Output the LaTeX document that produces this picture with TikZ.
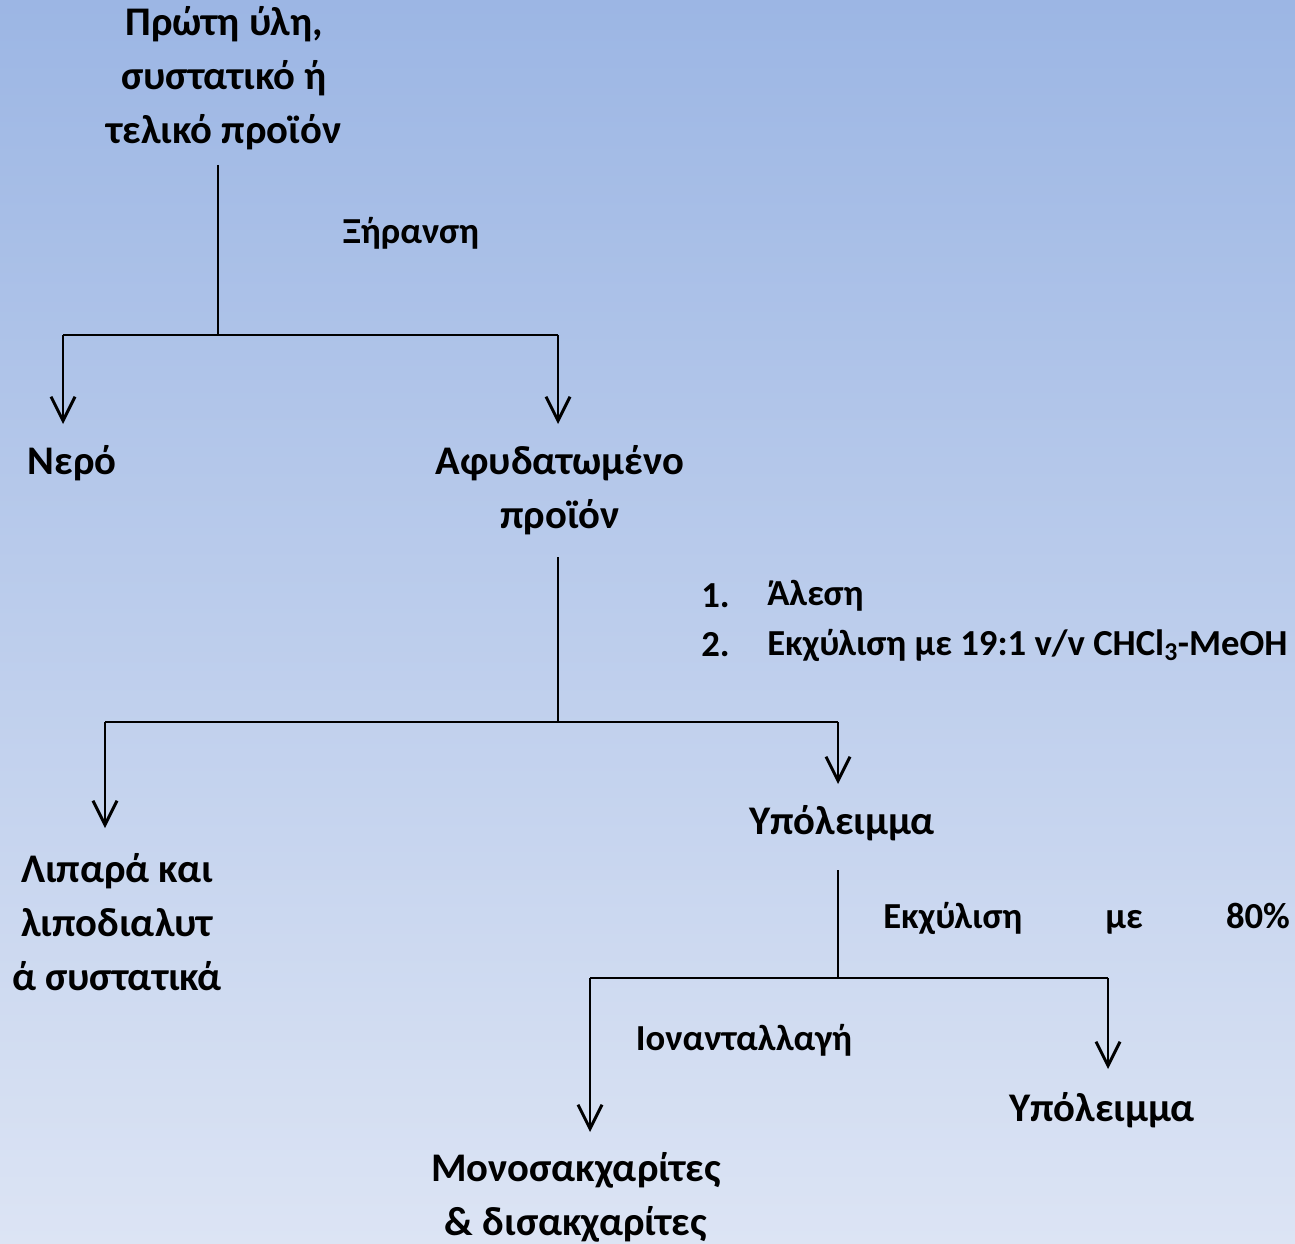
\documentclass[tikz,border=0pt]{standalone}
\usepackage{fontspec}
\setmainfont{Carlito}
\usetikzlibrary{arrows.meta}
\tikzset{
  box/.style={font=\bfseries\fontsize{30.5}{40.5}\selectfont, align=center, inner sep=0pt, text=black},
  lbl/.style={font=\bfseries\fontsize{27.5}{36}\selectfont, inner sep=0pt, text=black},
  conn/.style={line width=2.2pt, black},
  arr/.style={conn, -{Straight Barb[length=18pt, width=18pt, line width=2.2pt]}},
}
\begin{document}
\begin{tikzpicture}[x=0.75pt,y=-0.75pt]
\shade[top color={rgb,255:red,156;green,182;blue,228}, bottom color={rgb,255:red,220;green,228;blue,244}] (0,0) rectangle (1295,1244);
\useasboundingbox (0,0) rectangle (1295,1244);

% nodes
\node[box] (raw) at (224,78) {Πρώτη ύλη,\\συστατικό ή\\τελικό προϊόν};
\node[box] (water) at (72,463) {Νερό};
\node[box] (dehyd) at (560,490) {Αφυδατωμένο\\προϊόν};
\node[box] (lipid) at (117,922) {Λιπαρά και\\λιποδιαλυτ\\ά συστατικά};
\node[box] (res1) at (842,823) {Υπόλειμμα};
\node[box] (res2) at (1102,1110) {Υπόλειμμα};
\node[box] (sugar) at (576,1197) {Μονοσακχαρίτες\\\& δισακχαρίτες};

% labels
\node[lbl] (dry) at (411,233) {Ξήρανση};
\node[lbl, anchor=west] (n1) at (701,596) {1.};
\node[lbl, anchor=west] (s1) at (767,596) {Άλεση};
\node[lbl, anchor=west] (n2) at (701,645) {2.};
\node[lbl, anchor=west] (s2) at (767,645) {Εκχύλιση με 19:1 v/v CHCl\textsubscript{3}-MeOH};
\node[lbl, anchor=west] (ext) at (883,918) {\hbox to 305pt{Εκχύλιση\hfil με\hfil 80\%}};
\node[lbl] (ion) at (744,1040) {Ιονανταλλαγή};

% coordinates
\coordinate (a0) at (218,165);
\coordinate (a1) at (218,335);
\coordinate (aL) at (63,335);
\coordinate (aR) at (558,335);
\coordinate (aLt) at (63,424);
\coordinate (aRt) at (558,424);

\coordinate (b0) at (558,557);
\coordinate (b1) at (558,722);
\coordinate (bL) at (105,722);
\coordinate (bR) at (838,722);
\coordinate (bLt) at (105,828);
\coordinate (bRt) at (838,784);

\coordinate (c0) at (838,870);
\coordinate (c1) at (838,978);
\coordinate (cL) at (590,978);
\coordinate (cR) at (1108,978);
\coordinate (cLt) at (590,1132);
\coordinate (cRt) at (1108,1069);

% connectors
\draw[conn] (a0) -- (a1);
\draw[conn] (aL) -- (aR);
\draw[arr] (aL) -- (aLt);
\draw[arr] (aR) -- (aRt);

\draw[conn] (b0) -- (b1);
\draw[conn] (bL) -- (bR);
\draw[arr] (bL) -- (bLt);
\draw[arr] (bR) -- (bRt);

\draw[conn] (c0) -- (c1);
\draw[conn] (cL) -- (cR);
\draw[arr] (cL) -- (cLt);
\draw[arr] (cR) -- (cRt);
\end{tikzpicture}
\end{document}
